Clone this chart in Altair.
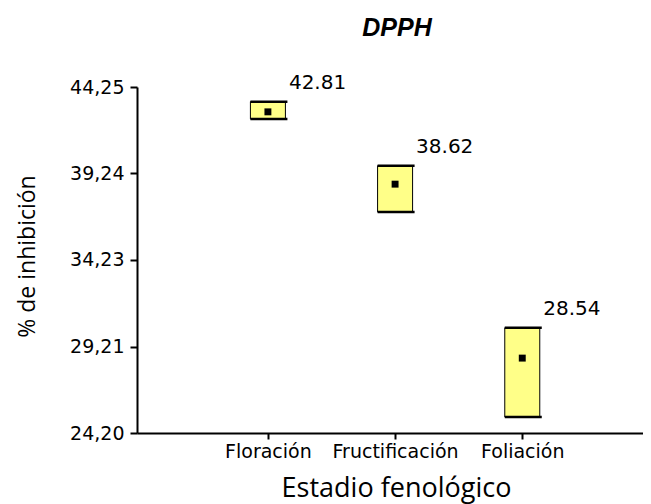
import altair as alt
import pandas as pd

categories = ["Floración", "Fructificación", "Foliación"]
positions = [1, 2, 3]
means = [42.81, 38.62, 28.54]
upper = [43.40, 39.69, 30.30]
lower = [42.40, 37.01, 25.13]
value_labels = ["42.81", "38.62", "28.54"]
y_ticks = [24.20, 29.21, 34.23, 39.24, 44.25]

df = pd.DataFrame({
    "pos": positions,
    "cat": categories,
    "mean": means,
    "upper": upper,
    "lower": lower,
    "label": value_labels,
})

cat_expr = "[" + ",".join("'" + c + "'" for c in categories) + "][datum.value - 1]"

xax = alt.Axis(
    values=positions, labelExpr=cat_expr, title="Estadio fenológico",
    domainColor="black", domainWidth=2, tickColor="black", tickWidth=2, tickSize=6,
    labelFont="DejaVu Sans", labelFontSize=19, labelColor="black", labelPadding=3,
    labelBaseline="top",
    titleFont="Open Sans", titleFontSize=27, titleFontWeight="normal", titleColor="black",
    titleX=259, titleY=63, titleBaseline="alphabetic", titleAlign="center",
    grid=False,
)
yax = alt.Axis(
    values=y_ticks, labelExpr="replace(format(datum.value, '.2f'), '.', ',')",
    title="% de inhibición",
    domainColor="black", domainWidth=2, tickColor="black", tickWidth=2, tickSize=7,
    labelFont="DejaVu Sans", labelFontSize=19, labelColor="black", labelPadding=6,
    titleFont="Open Sans", titleFontSize=23, titleFontWeight="normal", titleColor="black",
    titleAngle=270, titleX=-103, titleY=169, titleBaseline="alphabetic", titleAlign="center",
    grid=False,
)

xs = alt.Scale(domain=[0.01, 3.91], nice=False, zero=False)
ys = alt.Scale(domain=[24.20, 44.25], nice=False, zero=False)

X = alt.X("pos:Q", scale=xs, axis=xax)

base = alt.Chart(df)

boxes = base.mark_bar(size=35, fill="#ffff88", stroke="black", strokeWidth=1).encode(
    x=X,
    y=alt.Y("lower:Q", scale=ys, axis=yax),
    y2="upper:Q",
)
tops = base.mark_tick(orient="horizontal", size=37, thickness=2.5, color="black", opacity=1, xOffset=1).encode(
    x=X, y=alt.Y("upper:Q", scale=ys, axis=yax)
)
bottoms = base.mark_tick(orient="horizontal", size=37, thickness=2.5, color="black", opacity=1, xOffset=1).encode(
    x=X, y=alt.Y("lower:Q", scale=ys, axis=yax)
)
marks = base.mark_square(size=48, color="black", opacity=1).encode(
    x=X, y=alt.Y("mean:Q", scale=ys, axis=yax)
)
texts = base.mark_text(align="left", baseline="middle", dx=21, dy=-19,
                       font="DejaVu Sans", fontSize=20, color="black").encode(
    x=X, y=alt.Y("upper:Q", scale=ys, axis=yax), text="label:N"
)

chart = alt.layer(boxes, tops, bottoms, marks, texts).properties(
    width=506,
    height=346,
    title=alt.TitleParams("DPPH", font="Liberation Sans", fontSize=25, fontWeight="bold",
                          fontStyle="italic", color="black", frame="group", offset=12,
                          baseline="alphabetic", anchor="middle", dx=7),
    autosize=alt.AutoSizeParams(type="none"),
    padding={"left": 129, "top": 79, "right": 0, "bottom": 72},
).configure(background="white").configure_view(stroke=None)

chart.save("out.html", embed_options={"renderer": "svg", "actions": False})
